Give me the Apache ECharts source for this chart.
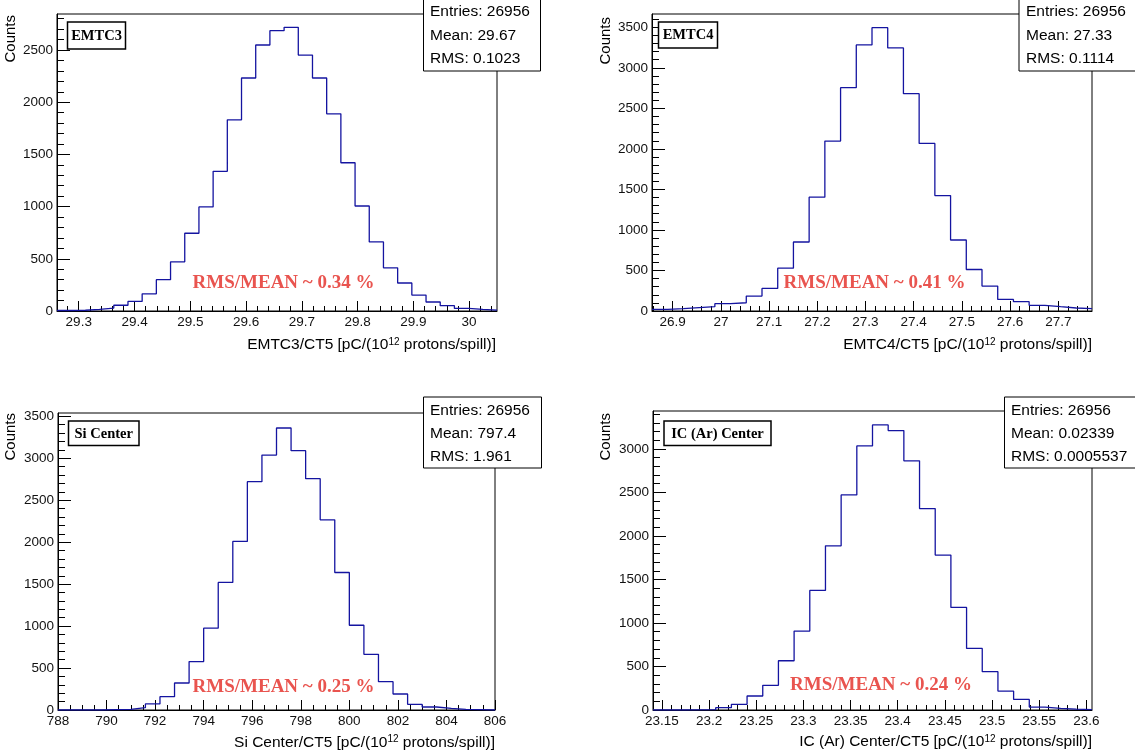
<!DOCTYPE html>
<html><head><meta charset="utf-8">
<script src="https://cdn.jsdelivr.net/npm/echarts@6/dist/echarts.min.js"></script>
<style>html,body{margin:0;padding:0;background:#fff}#c{width:1135px;height:753px}</style>
</head><body><div id="c"></div>
<script>
// ---------- DATA ----------
// Panel 1: EMTC3
const emtc3Counts = [5,7,15,28,55,92,165,300,471,745,997,1338,1831,2232,2548,2685,2717,2452,2232,1889,1420,1006,662,414,268,153,86,51,25,16,8];
const emtc3Range = [29.261, 30.05];
const emtc3XTicks = [29.3,29.4,29.5,29.6,29.7,29.8,29.9,30];
const emtc3YTicks = [0,500,1000,1500,2000,2500];
const emtc3YMax = 2845;
const emtc3Stats = ['Entries: 26956','Mean: 29.67','RMS: 0.1023'];

// Panel 2: EMTC4
const emtc4Counts = [20,29,41,53,90,102,184,278,528,851,1404,2096,2755,3283,3495,3246,2681,2067,1424,876,512,307,143,115,70,53,37,29];
const emtc4Range = [26.857, 27.77];
const emtc4XTicks = [26.9,27,27.1,27.2,27.3,27.4,27.5,27.6,27.7];
const emtc4YTicks = [0,500,1000,1500,2000,2500,3000,3500];
const emtc4YMax = 3664;
const emtc4Stats = ['Entries: 26956','Mean: 27.33','RMS: 0.1114'];

// Panel 3: Si Center
const siCounts = [0,0,0,4,8,28,72,159,322,577,975,1520,2009,2721,3039,3361,3091,2757,2267,1639,1010,664,338,191,68,36,20,8,4,0];
const siRange = [788, 806];
const siXTicks = [788,790,792,794,796,798,800,802,804,806];
const siYTicks = [0,500,1000,1500,2000,2500,3000,3500];
const siYMax = 3540;
const siStats = ['Entries: 26956','Mean: 797.4','RMS: 1.961'];

// Panel 4: IC (Ar) Center
const icCounts = [0,0,2,4,27,65,161,283,566,907,1374,1887,2472,3035,3276,3211,2863,2315,1780,1179,708,440,218,122,34,19,11,4];
const icRange = [23.1405, 23.606];
const icXTicks = [23.15,23.2,23.25,23.3,23.35,23.4,23.45,23.5,23.55,23.6];
const icYTicks = [0,500,1000,1500,2000,2500,3000];
const icYMax = 3436;
const icStats = ['Entries: 26956','Mean: 0.02339','RMS: 0.0005537'];

const titles = ['EMTC3','EMTC4','Si Center','IC (Ar) Center'];
const xTitles = ['EMTC3/CT5 [pC/(10','EMTC4/CT5 [pC/(10','Si Center/CT5 [pC/(10','IC (Ar) Center/CT5 [pC/(10'];
const ratios = ['RMS/MEAN ~ 0.34 %','RMS/MEAN ~ 0.41 %','RMS/MEAN ~ 0.25 %','RMS/MEAN ~ 0.24 %'];

// ---------- LAYOUT ----------
const panels = [
  {counts: emtc3Counts, range: emtc3Range, xt: emtc3XTicks, yt: emtc3YTicks, ymax: emtc3YMax, stats: emtc3Stats,
   grid: {left:57, top:14, width:440, height:297}, xMinorStep: 0.02,
   stat: {x:423, y:-2, w:117, h:73, tx:430, ty:[12,35.5,59]},
   lab: {x:67.5, y:22, w:58, h:27}, rms: {x:283.5, y:283}, counts_: {x:11, y:15}, xt_: {x:496, y:345}},
  {counts: emtc4Counts, range: emtc4Range, xt: emtc4XTicks, yt: emtc4YTicks, ymax: emtc4YMax, stats: emtc4Stats,
   grid: {left:652, top:14, width:440, height:297}, xMinorStep: 0.02,
   stat: {x:1018.5, y:-2, w:200, h:73, tx:1026, ty:[12,35.5,59]},
   lab: {x:658.5, y:22, w:59, h:26}, rms: {x:874.5, y:283}, counts_: {x:606, y:17}, xt_: {x:1092, y:345}},
  {counts: siCounts, range: siRange, xt: siXTicks, yt: siYTicks, ymax: siYMax, stats: siStats,
   grid: {left:58, top:413, width:437, height:297}, xMinorStep: 0.5,
   stat: {x:423, y:397, w:118, h:71, tx:430, ty:[410.7,433.3,456.7]},
   lab: {x:68.5, y:421, w:70.5, h:24.5}, rms: {x:283.5, y:687.5}, counts_: {x:11, y:413}, xt_: {x:495, y:742.5}},
  {counts: icCounts, range: icRange, xt: icXTicks, yt: icYTicks, ymax: icYMax, stats: icStats,
   grid: {left:653, top:411, width:439, height:299}, xMinorStep: 0.01,
   stat: {x:1004, y:397, w:200, h:71, tx:1011, ty:[410.7,433.3,456.7]},
   lab: {x:664, y:421, w:107, h:24.5}, rms: {x:881, y:685}, counts_: {x:606, y:413}, xt_: {x:1092, y:742}}
];

function minorTicks(min, max, step, majors) {
  const out = [];
  const k0 = Math.ceil(min / step - 1e-9), k1 = Math.floor(max / step + 1e-9);
  for (let k = k0; k <= k1; k++) {
    const v = +(k * step).toFixed(6);
    if (v <= min || v >= max) continue;
    if (majors.some(m => Math.abs(m - v) < step * 1e-3)) continue;
    out.push(v);
  }
  return out;
}

const SANS = '"Liberation Sans", Arial, Helvetica, sans-serif';
const SERIF = '"Liberation Serif", "Times New Roman", serif';
const LINE = '#1414a0';

const grids = [], xAxes = [], yAxes = [], series = [], graphics = [];
panels.forEach((p, i) => {
  grids.push(Object.assign({show: true, borderColor: '#000', borderWidth: 1, containLabel: false}, p.grid));
  const [lo, hi] = p.range;
  const xMinors = minorTicks(lo, hi, p.xMinorStep, p.xt);
  const yMinors = minorTicks(0, p.ymax, 100, p.yt);
  // major x
  xAxes.push({gridIndex: i, type: 'value', min: lo, max: hi, position: 'bottom',
    axisLine: {show: true, onZero: false, lineStyle: {color: '#000', width: 1}},
    axisTick: {show: true, inside: true, length: 10, customValues: p.xt, lineStyle: {color: '#000'}},
    axisLabel: {show: true, customValues: p.xt, margin: 4, color: '#111', fontSize: 13.5, fontFamily: SANS,
      formatter: v => String(+(+v).toFixed(3))},
    splitLine: {show: false}});
  // minor x
  xAxes.push({gridIndex: i, type: 'value', min: lo, max: hi, position: 'bottom',
    axisLine: {show: false}, axisLabel: {show: false}, splitLine: {show: false},
    axisTick: {show: true, inside: true, length: 5, customValues: xMinors, lineStyle: {color: '#000'}}});
  // major y
  yAxes.push({gridIndex: i, type: 'value', min: 0, max: p.ymax, position: 'left',
    axisLine: {show: true, onZero: false, lineStyle: {color: '#000', width: 1}},
    axisTick: {show: true, inside: true, length: 13, customValues: p.yt, lineStyle: {color: '#000'}},
    axisLabel: {show: true, customValues: p.yt, margin: 4, color: '#111', fontSize: 13.5, fontFamily: SANS,
      formatter: v => String(Math.round(+v))},
    splitLine: {show: false}});
  // minor y
  yAxes.push({gridIndex: i, type: 'value', min: 0, max: p.ymax, position: 'left',
    axisLine: {show: false}, axisLabel: {show: false}, splitLine: {show: false},
    axisTick: {show: true, inside: true, length: 7, customValues: yMinors, lineStyle: {color: '#000'}}});

  const n = p.counts.length, w = (hi - lo) / n;
  const pts = p.counts.map((c, k) => [lo + k * w, c]);
  pts.push([hi, p.counts[n - 1]]);
  series.push({type: 'line', xAxisIndex: 2 * i, yAxisIndex: 2 * i, step: 'end', data: pts,
    showSymbol: false, symbol: 'none', silent: true, animation: false,
    lineStyle: {color: LINE, width: 1.3}, clip: true, z: 3});

  // stat box
  graphics.push({type: 'rect', z: 100, shape: {x: p.stat.x + 0.5, y: p.stat.y, width: p.stat.w, height: p.stat.h},
    style: {fill: '#fff', stroke: '#000', lineWidth: 1}});
  p.stats.forEach((s, k) => graphics.push({type: 'text', z: 101, x: p.stat.tx, y: p.stat.ty[k],
    style: {text: s, fill: '#000', font: '15.5px ' + SANS, align: 'left', verticalAlign: 'middle'}}));
  // title box
  graphics.push({type: 'rect', z: 100, shape: {x: p.lab.x, y: p.lab.y, width: p.lab.w, height: p.lab.h},
    style: {fill: '#fff', stroke: '#000', lineWidth: 1.5}});
  graphics.push({type: 'text', z: 101, x: p.lab.x + p.lab.w / 2, y: p.lab.y + p.lab.h / 2 + 0.5,
    style: {text: titles[i], fill: '#000', font: 'bold 14.5px ' + SERIF, align: 'center', verticalAlign: 'middle'}});
  // RMS/MEAN annotation
  graphics.push({type: 'text', z: 101, x: p.rms.x, y: p.rms.y,
    style: {text: ratios[i], fill: '#e9544f', font: 'bold 19px ' + SERIF, align: 'center', verticalAlign: 'middle'}});
  // Counts label
  graphics.push({type: 'text', z: 101, x: p.counts_.x, y: p.counts_.y, rotation: Math.PI / 2,
    style: {text: 'Counts', fill: '#000', font: '15px ' + SANS, align: 'right', verticalAlign: 'middle'}});
  // X title with superscript
  graphics.push({type: 'text', z: 101, x: p.xt_.x, y: p.xt_.y,
    style: {text: '{a|' + xTitles[i] + '}{s|12}{a| protons/spill)]}', align: 'right', verticalAlign: 'middle',
      rich: {a: {fontSize: 15.5, fontFamily: SANS, fill: '#000'},
             s: {fontSize: 10, fontFamily: SANS, fill: '#000', verticalAlign: 'top'}}}});
});

const chart = echarts.init(document.getElementById('c'), null, {renderer: 'canvas'});
chart.setOption({
  animation: false,
  backgroundColor: '#fff',
  grid: grids, xAxis: xAxes, yAxis: yAxes, series: series,
  graphic: graphics
});
</script></body></html>
